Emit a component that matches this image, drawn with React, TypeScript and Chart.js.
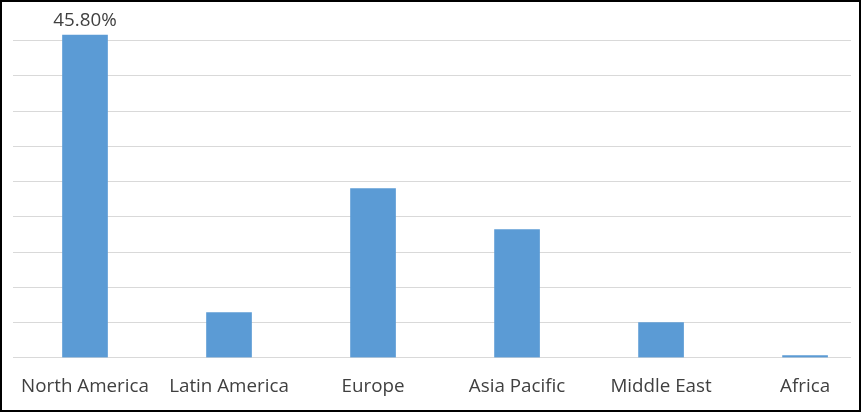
import React, { useEffect, useRef } from "react";
import { Chart, registerables } from "chart.js";

Chart.register(...registerables);

const categories = ["North America", "Latin America", "Europe", "Asia Pacific", "Middle East", "Africa"];
const shares = [45.8, 6.4, 24.0, 18.2, 5.0, 0.3];
const shownLabels = ["45.80%", "", "", "", "", ""];

const FONT = "'Open Sans', sans-serif";
const FONT_SIZE = 18.8;

export default function App() {
  const ref = useRef<HTMLCanvasElement | null>(null);

  useEffect(() => {
    document.body.style.margin = "0";
    const canvas = ref.current;
    if (!canvas) return;

    const labelPlugin = {
      id: "valueLabels",
      afterDatasetsDraw(chart: any) {
        const meta = chart.getDatasetMeta(0);
        const ctx = chart.ctx;
        ctx.save();
        ctx.font = `${FONT_SIZE}px ${FONT}`;
        ctx.fillStyle = "#404040";
        ctx.textAlign = "center";
        ctx.textBaseline = "alphabetic";
        meta.data.forEach((el: any, i: number) => {
          const t = shownLabels[i];
          if (!t) return;
          ctx.fillText(t, el.x, el.y - 9);
        });
        ctx.restore();
      },
    };

    const chart = new Chart(canvas, {
      type: "bar",
      data: {
        datasets: [
          {
            data: shares.map((v, i) => ({ x: i, y: v })),
            backgroundColor: "#5b9bd5",
            borderColor: "#5b9bd5",
            borderWidth: 0,
            barThickness: 45,
          },
        ],
      },
      options: {
        animation: false,
        responsive: false,
        maintainAspectRatio: false,
        layout: { padding: { left: 11, right: 8, top: 3.4, bottom: 12 } },
        plugins: {
          legend: { display: false },
          tooltip: { enabled: false },
        },
        scales: {
          x: {
            type: "linear",
            offset: false,
            min: -0.5,
            max: 5.319,
            grid: { display: false, drawTicks: false, offset: false },
            border: { display: false },
            afterFit: (s: any) => {
              s.height = 40.3;
            },
            ticks: {
              stepSize: 1,
              includeBounds: false,
              autoSkip: false,
              maxRotation: 0,
              padding: 18,
              color: "#404040",
              font: { family: FONT, size: FONT_SIZE },
              callback: (v: any) => (Number.isInteger(v) && categories[v] !== undefined ? categories[v] : ""),
            },
          },
          y: {
            min: 0,
            max: 50,
            grid: {
              drawTicks: false,
              color: (c: any) => (c.tick && c.tick.value === 50 ? "rgba(0,0,0,0)" : "#d9d9d9"),
              lineWidth: 1,
            },
            border: { display: false },
            ticks: { display: false, stepSize: 5 },
          },
        },
      },
      plugins: [labelPlugin],
    });

    return () => chart.destroy();
  }, []);

  return (
    <div
      style={{
        width: 861,
        height: 412,
        boxSizing: "border-box",
        border: "2px solid #000",
        background: "#fff",
        position: "relative",
      }}
    >
      <canvas ref={ref} width={857} height={408} style={{ display: "block" }} />
    </div>
  );
}
